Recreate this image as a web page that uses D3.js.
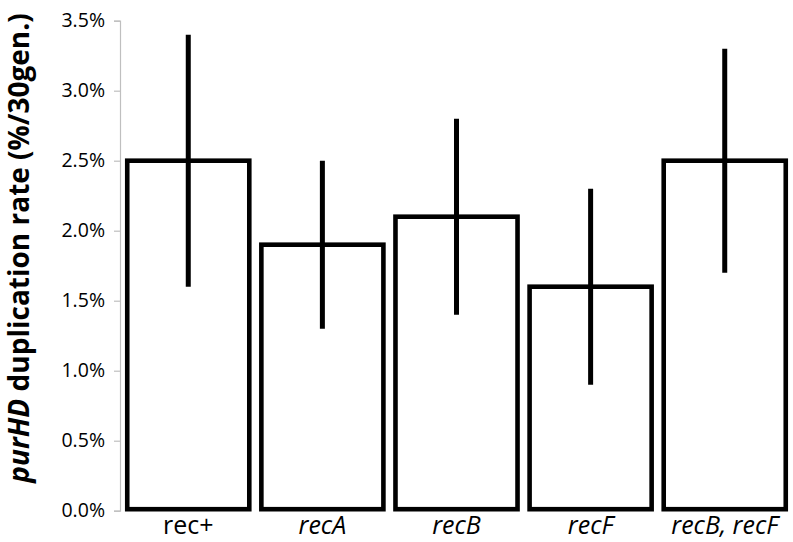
<!DOCTYPE html>
<html>
<head>
<meta charset="utf-8">
<script src="https://cdn.jsdelivr.net/npm/d3@7"></script>
<style>
  body { margin: 0; background: #fff; }
  svg { display: block; }
</style>
</head>
<body>
<div id="chart"></div>
<script>
// strains and their duplication rates (%/30 gen.)
const strains = ["rec+", "recA", "recB", "recF", "recB, recF"];
const italicLabel = [false, true, true, true, true];
const rates = [2.5, 1.9, 2.1, 1.6, 2.5];
const errLow = [1.6, 1.3, 1.4, 0.9, 1.7];
const errHigh = [3.4, 2.5, 2.8, 2.3, 3.3];
const yTicks = [0, 0.5, 1.0, 1.5, 2.0, 2.5, 3.0, 3.5];

const width = 793, height = 542;
const margin = { top: 20.7, right: 0, bottom: 31.3, left: 120 };

const svg = d3.select("#chart")
    .append("svg")
    .attr("width", width)
    .attr("height", height);

const xScale = d3.scaleBand()
    .domain(strains)
    .range([margin.left, width - margin.right])
    .paddingInner(0.09)
    .paddingOuter(0.054);

const yScale = d3.scaleLinear()
    .domain([0, 3.5])
    .range([height - margin.bottom, margin.top]);

// y axis, grey like the original
const yAxis = d3.axisLeft(yScale)
    .tickValues(yTicks)
    .tickSize(6)
    .tickPadding(9)
    .tickFormat(d => d.toFixed(1) + "%");

const yg = svg.append("g")
    .attr("transform", `translate(${margin.left},0)`)
    .call(yAxis);
yg.select(".domain").attr("stroke", "#bfbfbf").attr("stroke-width", 1.2);
yg.selectAll(".tick line").attr("stroke", "#bfbfbf").attr("stroke-width", 1.2);
yg.selectAll(".tick text")
    .attr("fill", "#000")
    .style("font-family", "'Open Sans', sans-serif")
    .style("font-size", "19.5px");

// bars, white with thick black outline
svg.selectAll("rect.bar")
    .data(strains)
    .join("rect")
    .attr("class", "bar")
    .attr("x", d => xScale(d))
    .attr("y", (d, i) => yScale(rates[i]))
    .attr("width", xScale.bandwidth())
    .attr("height", (d, i) => yScale(0) - yScale(rates[i]) - 1.5)
    .attr("fill", "#fff")
    .attr("stroke", "#000")
    .attr("stroke-width", 4.6);

// error bars, no caps
svg.selectAll("line.err")
    .data(strains)
    .join("line")
    .attr("class", "err")
    .attr("x1", d => xScale(d) + xScale.bandwidth() / 2)
    .attr("x2", d => xScale(d) + xScale.bandwidth() / 2)
    .attr("y1", (d, i) => yScale(errLow[i]))
    .attr("y2", (d, i) => yScale(errHigh[i]))
    .attr("stroke", "#000")
    .attr("stroke-width", 5);

// category labels
svg.selectAll("text.cat")
    .data(strains)
    .join("text")
    .attr("class", "cat")
    .attr("x", d => xScale(d) + xScale.bandwidth() / 2)
    .attr("y", 534)
    .attr("text-anchor", "middle")
    .style("font-family", "'Open Sans', sans-serif")
    .style("font-size", "25px")
    .style("font-style", (d, i) => italicLabel[i] ? "italic" : "normal")
    .text(d => d);

// y axis title
const title = svg.append("text")
    .attr("transform", "translate(29,248) rotate(-90)")
    .attr("text-anchor", "middle")
    .style("font-family", "'Open Sans', sans-serif")
    .style("font-size", "28px")
    .style("font-weight", "bold");
title.append("tspan").style("font-style", "italic").text("purHD");
title.append("tspan").text(" duplication rate (%/30gen.)");
</script>
</body>
</html>
